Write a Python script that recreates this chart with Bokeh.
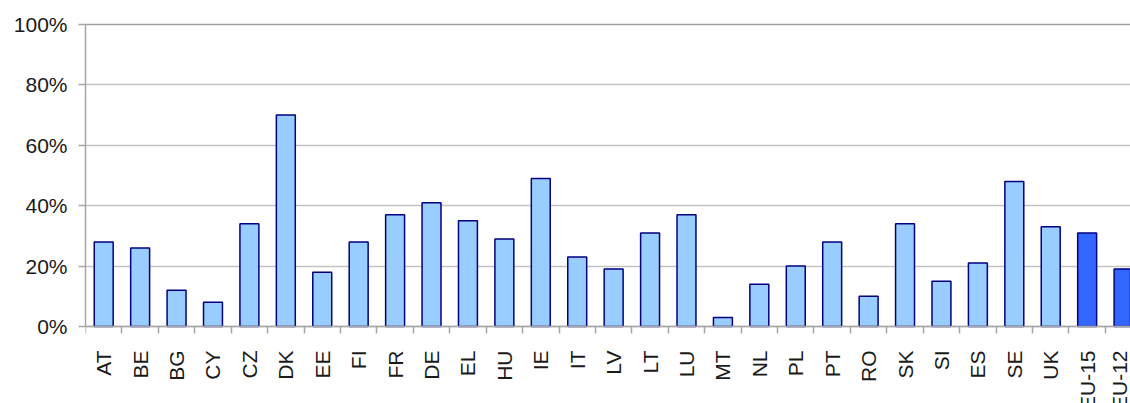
from bokeh.plotting import figure
from bokeh.models import ColumnDataSource, Range1d, FixedTicker, LinearAxis
from bokeh.embed import file_html
from bokeh.resources import INLINE
import math

categories = ["AT", "BE", "BG", "CY", "CZ", "DK", "EE", "FI", "FR", "DE", "EL", "HU", "IE", "IT",
              "LV", "LT", "LU", "MT", "NL", "PL", "PT", "RO", "SK", "SI", "ES", "SE", "UK",
              "EU-15", "EU-12"]
values = [28, 26, 12, 8, 34, 70, 18, 28, 37, 41, 35, 29, 49, 23,
          19, 31, 37, 3, 14, 20, 28, 10, 34, 15, 21, 48, 33,
          31, 19]
aggregates = ["EU-15", "EU-12"]
y_ticks = [0, 20, 40, 60, 80, 100]

LIGHT = "#99CCFF"
DARK = "#3366FF"
OUTLINE = "#000080"
FONT = "Liberation Sans"

W, H = 1130, 403
LEFT, TOP = 85, 24
ZERO_PX = 326          # page y of the 0% line
frame_h = H - TOP
plot_h = ZERO_PX - TOP
y_min = -(frame_h - plot_h) / plot_h * (y_ticks[-1] - y_ticks[0])

xs = [i + 0.5 for i in range(len(categories))]
colors = [DARK if c in aggregates else LIGHT for c in categories]
src = ColumnDataSource(dict(x=xs, top=values, color=colors))

p = figure(width=W, height=H, output_backend="svg", toolbar_location=None,
           x_range=Range1d(0, 28.69), y_range=Range1d(y_min, y_ticks[-1]),
           min_border_left=LEFT, min_border_right=0, min_border_top=TOP, min_border_bottom=0,
           x_axis_type=None)
p.outline_line_color = None
p.background_fill_color = "white"
p.border_fill_color = "white"

p.ygrid.ticker = FixedTicker(ticks=y_ticks)
p.ygrid.grid_line_color = "#c4c4c4"
p.ygrid.grid_line_width = 1.5
p.xgrid.grid_line_color = None

p.vbar(x="x", top="top", bottom=0, width=0.52, source=src,
       fill_color="color", line_color=OUTLINE, line_width=1.5)

# category axis at the 0% line: labels at centres, boundary marks as minor ticks
xaxis = LinearAxis(ticker=FixedTicker(ticks=xs, minor_ticks=list(range(len(categories) + 1))),
                   fixed_location=0)
xaxis.major_label_overrides = {x: c for x, c in zip(xs, categories)}
xaxis.major_label_orientation = math.pi / 2
xaxis.major_tick_out = 0
xaxis.major_tick_in = 0
xaxis.minor_tick_out = 7
xaxis.minor_tick_in = 0
xaxis.minor_tick_line_color = "#a6a6a6"
xaxis.minor_tick_line_width = 1.5
xaxis.axis_line_color = "#a6a6a6"
xaxis.axis_line_width = 1.5
xaxis.major_label_standoff = 17
xaxis.major_label_text_font = FONT
xaxis.major_label_text_font_size = "21px"
xaxis.major_label_text_color = "#1a1a1a"
p.add_layout(xaxis, "below")

# top border
top_axis = LinearAxis(ticker=FixedTicker(ticks=[]))
top_axis.axis_line_color = "#a0a0a0"
top_axis.axis_line_width = 1.5
top_axis.major_tick_out = 0
top_axis.minor_tick_out = 0
p.add_layout(top_axis, "above")

p.yaxis.ticker = FixedTicker(ticks=y_ticks)
p.yaxis.bounds = (y_ticks[0], y_ticks[-1])
p.yaxis.major_label_overrides = {t: f"{t}%" for t in y_ticks}
p.yaxis.major_tick_out = 7
p.yaxis.major_tick_in = 0
p.yaxis.minor_tick_line_color = None
p.yaxis.major_tick_line_color = "#a6a6a6"
p.yaxis.major_tick_line_width = 1.5
p.yaxis.axis_line_color = "#a6a6a6"
p.yaxis.axis_line_width = 1.5
p.yaxis.major_label_standoff = 11
p.yaxis.major_label_text_font = FONT
p.yaxis.major_label_text_font_size = "21px"
p.yaxis.major_label_text_color = "#1a1a1a"

open("out.html", "w").write(file_html(p, INLINE))
